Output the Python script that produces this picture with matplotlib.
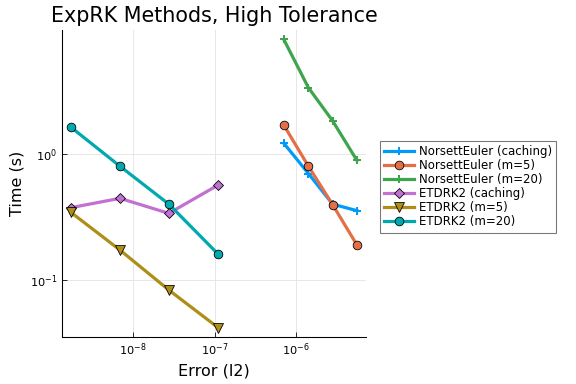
import numpy as np
import matplotlib
matplotlib.use("Agg")
import matplotlib.pyplot as plt
from matplotlib.ticker import LogLocator, NullLocator

# Errors (l2) for each method family
norsett_err = [7.06e-7, 1.42e-6, 2.82e-6, 5.6e-6]
etdrk2_err = [1.72e-9, 6.87e-9, 2.74e-8, 1.11e-7]

# Times (s)
norsett_caching = [1.22, 0.70, 0.40, 0.355]
norsett_m5 = [1.70, 0.80, 0.396, 0.190]
norsett_m20 = [8.13, 3.36, 1.83, 0.89]
etdrk2_caching = [0.375, 0.445, 0.338, 0.568]
etdrk2_m5 = [0.344, 0.173, 0.0833, 0.0418]
etdrk2_m20 = [1.63, 0.80, 0.40, 0.16]

labels = ["NorsettEuler (caching)", "NorsettEuler (m=5)", "NorsettEuler (m=20)",
          "ETDRK2 (caching)", "ETDRK2 (m=5)", "ETDRK2 (m=20)"]

colors = ["#009AFA", "#E36F47", "#3EA44E", "#C271D2", "#AC8E18", "#00A9AD"]
markers = ["P", "o", "P", "D", "v", "o"]
msizes = [6, 6.5, 6, 5.5, 7, 6.5]

series = [(norsett_err, norsett_caching), (norsett_err, norsett_m5), (norsett_err, norsett_m20),
          (etdrk2_err, etdrk2_caching), (etdrk2_err, etdrk2_m5), (etdrk2_err, etdrk2_m20)]

fig = plt.figure(figsize=(6, 4), dpi=96)
ax = fig.add_axes([0.1076, 0.1224, 0.5278, 0.7996])

for (x, y), lab, c, m, ms in zip(series, labels, colors, markers, msizes):
    ec = c if m == "P" else "black"
    ax.plot(x, y, color=c, lw=2.4, marker=m, markersize=ms, markerfacecolor=c,
            markeredgecolor=ec, markeredgewidth=0.6 if m != "P" else 0.0, label=lab)

ax.set_xscale("log")
ax.set_yscale("log")
ax.set_xlim(10 ** -8.875, 10 ** -5.14)
ax.set_ylim(10 ** -1.452, 10 ** 0.984)

ax.xaxis.set_major_locator(LogLocator(base=10, numticks=10))
ax.yaxis.set_major_locator(LogLocator(base=10, numticks=10))
ax.xaxis.set_minor_locator(NullLocator())
ax.yaxis.set_minor_locator(NullLocator())

ax.grid(True, color="#e6e6e6", lw=0.7)
ax.set_axisbelow(True)
for s in ["top", "right"]:
    ax.spines[s].set_visible(False)
ax.tick_params(direction="in", length=4, width=0.6, labelsize=8.5)

ax.set_title("ExpRK Methods, High Tolerance", fontsize=15.5)
ax.set_xlabel("Error (l2)", fontsize=12)
ax.set_ylabel("Time (s)", fontsize=12)

leg = ax.legend(loc="center left", bbox_to_anchor=(1.045, 0.49), fontsize=8.8,
                handlelength=2.6, fancybox=False, edgecolor="#555555",
                borderpad=0.35, labelspacing=0.1, handletextpad=0.4, borderaxespad=0)
leg.get_frame().set_linewidth(0.8)

fig.savefig("out.png", dpi=96)
